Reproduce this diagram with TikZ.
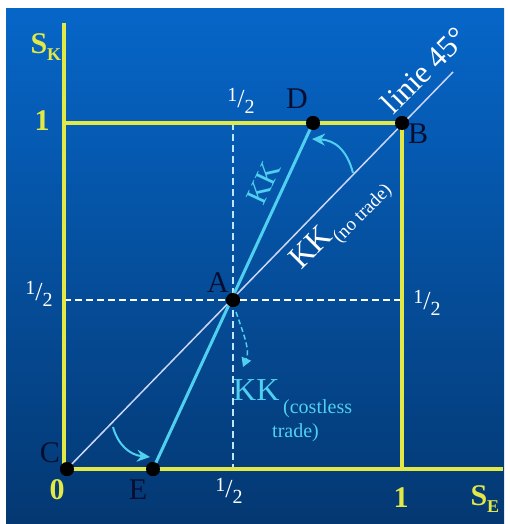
\documentclass[tikz,border=0pt]{standalone}
\usepackage{fontspec}
\setmainfont{Liberation Serif}
\usetikzlibrary{arrows.meta}
\definecolor{ylw}{RGB}{226,232,70}
\definecolor{cyn}{RGB}{80,208,240}
\definecolor{navy}{RGB}{8,14,50}
\definecolor{bgtop}{RGB}{6,102,200}
\definecolor{bgbot}{RGB}{4,56,114}
\definecolor{pale}{RGB}{205,215,245}
\definecolor{pcyan}{RGB}{190,230,255}
\newcommand{\fsz}[1]{\fontsize{#1}{#1}\selectfont}
\newcommand{\myhalf}{{\fsz{20}\raisebox{6pt}{1}}{\fsz{26}/}{\fsz{20}\raisebox{-6pt}{2}}}
\begin{document}
\begin{tikzpicture}[x=1pt,y=-1pt,
  axisline/.style={draw=ylw,line width=3.5pt},
  dot/.style={circle,fill=black,inner sep=0pt,minimum size=14pt},
  lbl/.style={text=navy,font=\fsz{30}},
  ylbl/.style={text=ylw,font=\fsz{30}\bfseries},
  halflbl/.style={text=white,inner sep=0pt},
  guide/.style={line width=1.2pt,dash pattern=on 7pt off 4pt},
  rotarrow/.style={draw=cyn,line width=2pt,-{Stealth[length=13pt,width=12pt]}}]
\useasboundingbox (0,0) rectangle (510,524);
\fill[white] (0,0) rectangle (510,524);
\shade[top color=bgtop,bottom color=bgbot] (6,9) rectangle (504,523);
% coordinates
\coordinate (O) at (64,469);
\coordinate (Ytop) at (64,23);
\coordinate (Xend) at (503,469);
\coordinate (Y1) at (64,123);
\coordinate (X1) at (402,469);
\coordinate (Vt) at (233,123);
\coordinate (Vb) at (233,469);
\coordinate (Hl) at (64,300);
\coordinate (Hr) at (402,300);
\coordinate (L45) at (453,72);
% dots (positions)
\node[dot] (C) at (67,469) {};
\node[dot] (E) at (153,469) {};
\node[dot] (A) at (233,300) {};
\node[dot] (D) at (313,123) {};
\node[dot] (B) at (402,123) {};
% dashed guides
\draw[guide,draw=pcyan] (Vt) -- (Vb);
\draw[guide,draw=white] (Hl) -- (Hr);
% yellow axes and box
\draw[axisline] (Ytop) -- (O) -- (Xend);
\draw[axisline] (Y1) -- (B.center) -- (X1);
% 45 degree line
\draw[pale,line width=1.5pt] (C.center) -- (L45);
% KK line
\draw[cyn,line width=3pt] (E.center) -- (D.center);
% rotation arrows
\coordinate (u1) at (353,173);
\coordinate (u2) at (312,139);
\draw[rotarrow] (u1) .. controls (347,150) and (335,140) .. (u2);
\coordinate (l1) at (113,427);
\coordinate (l2) at (150,457);
\draw[rotarrow] (l1) .. controls (118,445) and (130,455) .. (l2);
\coordinate (m1) at (236,312);
\coordinate (m2) at (243,367);
\draw[cyn,line width=1.5pt,dash pattern=on 5pt off 3pt,-{Triangle[length=9pt,width=10pt]}] (m1) .. controls (244,335) and (250,350) .. (m2);
% redraw dots on top
\foreach \p in {C,E,A,D,B} \fill[black] (\p.center) circle (7pt);
% labels
\node[ylbl,anchor=base west] (SK) at (27,54) {S\raisebox{-7pt}{\fsz{18}K}};
\node[ylbl] (one1) at (42,121) {1};
\node[ylbl] (zero) at (57,490) {0};
\node[ylbl] (one2) at (401,498) {1};
\node[ylbl,anchor=base west] (SE) at (467,505) {S\raisebox{-7pt}{\fsz{18}E}};
\node[halflbl] (htop) at (241,101) {\myhalf};
\node[halflbl] (hleft) at (39,294) {\myhalf};
\node[halflbl] (hright) at (427,303) {\myhalf};
\node[halflbl] (hbot) at (229,491) {\myhalf};
\node[lbl] (lD) at (297,99) {D};
\node[lbl] (lB) at (418,134) {B};
\node[lbl] (lA) at (218,283) {A};
\node[lbl] (lC) at (50,453) {C};
\node[lbl] (lE) at (138,490) {E};
\node[text=white,font=\fsz{31},rotate=45,inner sep=0pt] (linie) at (424,70) {linie 45°};
\node[text=cyn,font=\fsz{30},rotate=65] (kk) at (264,183) {KK};
\node[text=white,font=\fsz{32},rotate=45,inner sep=0pt] (kknt) at (341,225) {KK\raisebox{-8pt}{\fsz{19}(no trade)}};
\node[text=cyn,font=\fsz{32},anchor=base west,inner sep=0pt] (kkc) at (233,400) {KK};
\node[text=cyn,font=\fsz{20},anchor=base west,inner sep=0pt] (kkc2) at (283,413) {(costless};
\node[text=cyn,font=\fsz{20},anchor=base west,inner sep=0pt] (kkc3) at (272,437) {trade)};
\end{tikzpicture}
\end{document}
